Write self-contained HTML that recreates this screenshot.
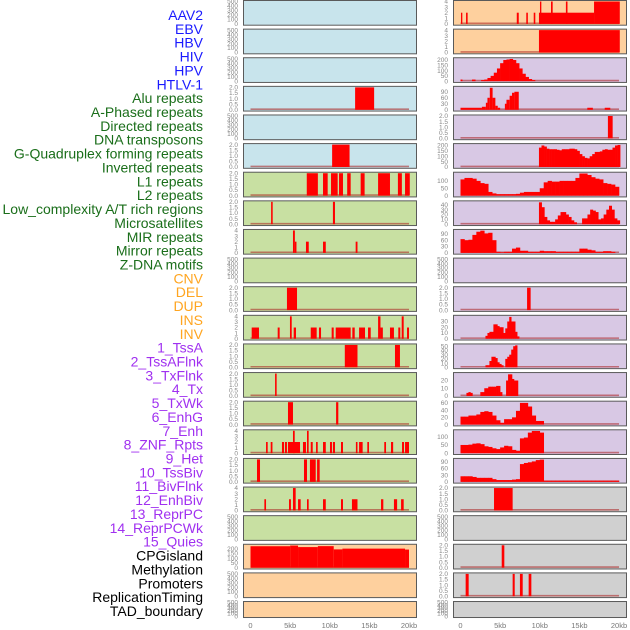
<!DOCTYPE html>
<html><head><meta charset="utf-8">
<style>
body{margin:0;background:#fff;width:630px;height:630px;overflow:hidden}
svg{display:block}
.lab{font-family:"Liberation Sans",sans-serif;font-size:14px}
.tk{font-family:"Liberation Sans",sans-serif;font-size:6.5px;fill:#888}
.xt{font-family:"Liberation Sans",sans-serif;font-size:7.5px;fill:#777}
</style></head>
<body>
<svg id="chart" width="630" height="630" viewBox="0 0 630 630"></svg>
<script>
// ---- labels ----
const labelNames=["AAV2","EBV","HBV","HIV","HPV","HTLV-1","Alu repeats","A-Phased repeats","Directed repeats","DNA transposons","G-Quadruplex forming repeats","Inverted repeats","L1 repeats","L2 repeats","Low_complexity A/T rich regions","Microsatellites","MIR repeats","Mirror repeats","Z-DNA motifs","CNV","DEL","DUP","INS","INV","1_TssA","2_TssAFlnk","3_TxFlnk","4_Tx","5_TxWk","6_EnhG","7_Enh","8_ZNF_Rpts","9_Het","10_TssBiv","11_BivFlnk","12_EnhBiv","13_ReprPC","14_ReprPCWk","15_Quies","CPGisland","Methylation","Promoters","ReplicationTiming","TAD_boundary"];
const labelGroups=[6,13,5,15,5];
const groupColors=["#1a1aff","#1a6e1a","#ffa520","#a030f0","#000000"];
// ---- tick label sets ----
const ticks500=["0","100","200","300","400","500"];
const ticks2=["0.0","0.5","1.0","1.5","2.0"];
const ticks4=["0","1","2","3","4"];
const xTickKb=[0,5,10,15,20];
const xTickLabels=["0","5kb","10kb","15kb","20kb"];
// ---- column 1 data: segments [startKb,endKb,value] ----
const c1r3=[[13.2,15.6,2]];
const c1r5=[[10.3,12.5,2]];
const c1r6=[[7.1,8.5,2],[9.15,9.74,2],[10.16,11.0,2],[11.17,11.67,2],[12.2,12.64,2],[13.9,14.4,2],[16.1,17.6,2],[18.6,19.1,2],[19.5,20.1,2]];
const c1r7=[[2.6,2.8,2],[10.4,10.66,2]];
const c1r8=[[5.36,5.6,4],[5.6,5.8,2],[7.0,7.35,2],[9.15,9.5,2],[13.27,13.5,2]];
const c1r10=[[4.6,5.87,2]];
const c1r11=[[0.15,1.07,2],[3.43,3.68,2],[4.98,5.2,4],[5.45,5.74,2],[7.6,8.35,2],[8.64,8.9,2],[10.24,10.5,2],[10.75,12.64,2],[12.85,13.15,2],[13.7,14.45,2],[14.83,15.17,2],[16.1,16.4,4],[16.4,16.7,2],[17.6,18.1,2],[18.65,18.9,2],[19.08,19.33,4],[19.75,20.0,2]];
const c1r12=[[11.9,13.5,2],[18.23,18.86,2]];
const c1r13=[[3.1,3.3,2]];
const c1r14=[[4.73,5.36,2],[10.8,11.08,2]];
const c1r15=[[1.96,2.17,2],[2.55,2.77,2],[3.97,4.23,2],[4.35,4.6,2],[4.73,6.25,2],[5.36,5.58,4],[6.62,7.0,2],[7.13,7.34,4],[7.6,7.85,2],[8.27,8.48,2],[9.15,9.5,2],[10.03,10.28,2],[10.4,10.66,2],[11.42,11.67,2],[13.3,13.5,2],[13.7,14.15,2],[14.74,14.95,2],[16.88,17.1,2],[17.73,18.0,2],[19.12,19.37,2],[19.5,20.0,2]];
const c1r16=[[0.82,1.2,2],[6.75,7.13,2],[7.5,8.23,2],[8.4,8.73,2]];
const c1r17=[[1.75,1.96,2],[4.86,5.1,2],[5.36,5.7,4],[6.0,6.33,2],[7.13,7.34,2],[9.15,9.5,2],[11.42,11.67,2],[12.8,13.5,2],[16.47,16.76,2],[18.1,18.5,2],[19.0,19.33,2]];
const c1r19=[[0,5,225],[5,6,232],[6,8.5,216],[8.5,10.5,226],[10.5,11.6,192],[11.6,19.5,200],[19.5,20,190]];
// ---- column 2 data ----
const c2r0=[[0.06,0.23,2],[0.7,0.9,2],[7.1,7.35,2],[8.3,8.5,2],[9.24,9.44,2],[9.9,16.85,2],[10.03,10.2,4],[11.42,11.63,4],[13.3,13.5,4],[16.85,20.1,4]];
const c2r1=[[9.9,20.1,4]];
const c2r2=[[0,0.25,15],[1.45,1.9,15]];
const c2r2p=[10,15,30,50,80,120,170,200,205,210,200,170,120,70,40,20,10];
const c2r3=[[0,2.7,10],[2.7,3.2,15],[3.2,3.4,35],[3.4,3.7,60],[3.7,4.05,110],[4.05,4.4,60],[4.4,4.7,20],[4.7,5.0,10],[5.6,5.8,30],[5.8,6.2,50],[6.2,6.5,70],[6.5,6.8,85],[6.8,7.35,90],[16.0,16.7,10],[18.2,18.9,10]];
const c2r4=[[18.6,19.2,2]];
const c2r5p=[180,200,190,170,165,165,165,160,155,165,165,165,170,170,165,150,120,100,85,80,100,120,140,140,145,160,165,160,160,180,200,205];
const c2r6p=[110,120,120,115,100,85,80,25,15,10,10,10,10,10,12,20,25,25,25,25,50,90,100,95,95,100,100,100,100,120,150,150,140,125,115,110,85,80,75,60];
const c2r7p=[45,35,15,8,5,5,10,18,25,25,20,15,8,4,0,0,12,12,20,30,28,25,10,12,20,30,38,30,12,8];
const c2r8p=[65,60,62,85,100,105,92,95,60,5,3,5,5,20,25,10,10,5,5,5,10,8,8,8,5,5,5,5,5,5,20,20,15,12,5,5,8,8,5,0];
const c2r10=[[8.4,8.85,2]];
const c2r11p=[5,10,12,12,25,25,22,20,20,10,18,30,38,30,30,12,4];
const c2r12p=[5,5,15,25,25,22,12,8,5,0,20,25,30,42,50,52];
const c2r13p=[0,0,0,4,5,4,0,0,0,0,5,5,10,10,12,12,12,12,13,13,5,0,0,20,28,28,22,20,20,0];
const c2r14p=[22,22,25,25,28,35,37,35,25,12,5,15,15,20,38,60,60,50,25,10,10];
const c2r15p=[50,50,52,58,60,55,42,38,30,25,35,45,42,20,15,90,95,125,135,135,125];
const c2r16p=[25,25,25,22,18,18,18,18,12,8,8,8,8,10,12,80,85,88,92,98,100,5,5,5,5,5,5,5,5,5,5,5,5,5,5,5,5,5,5,5];
const c2r17=[[4.23,6.58,2]];
const c2r19=[[5.2,5.53,2]];
const c2r20=[[0.65,1.03,2],[6.58,6.84,2],[7.5,7.85,2],[8.6,8.94,2]];

// panel config: [col,row,bg,ticks,ymax,segments,profile,profStartKb,profBinKb]
const BLUE="#c8e4ec",GREEN="#c8e0a2",ORANGE="#fed09e",PURPLE="#d8c8e4",GRAY="#d0d0d0";
const panels=[];
function bg1(r){return r<6?BLUE:(r<19?GREEN:ORANGE);}
function bg2(r){return r<2?ORANGE:(r<17?PURPLE:GRAY);}
const c1data={3:[ticks2,2,c1r3],5:[ticks2,2,c1r5],6:[ticks2,2,c1r6],7:[ticks2,2,c1r7],8:[ticks4,4,c1r8],10:[ticks2,2,c1r10],11:[ticks4,4,c1r11],12:[ticks2,2,c1r12],13:[ticks2,2,c1r13],14:[ticks2,2,c1r14],15:[ticks4,4,c1r15],16:[ticks2,2,c1r16],17:[ticks4,4,c1r17],19:[["0","50","100","150","200"],235,c1r19]};
const c2data={0:[ticks4,4,c2r0],1:[ticks4,4,c2r1],2:[["0","50","100","150","200"],212,c2r2,c2r2p,2.6,0.4],3:[["0","30","60","90"],112,c2r3],4:[ticks2,2,c2r4],
5:[["0","50","100","150","200"],208,[],c2r5p,9.9,0.32],6:[["0","50","100"],152,[],c2r6p,0,0.5],7:[["0","10","20","30","40"],46,[],c2r7p,9.9,0.34],
8:[["0","30","60","90"],106,[],c2r8p,0,0.5],10:[ticks2,2,c2r10],11:[["0","10","20","30"],39,[],c2r11p,3.15,0.25],12:[["0","10","20","30","40","50"],53,[],c2r12p,3.15,0.25],
13:[["0","10","20"],29,[],c2r13p,0,0.25],14:[["0","20","40","60"],62,[],c2r14p,0,0.5],15:[["0","50","100"],136,[],c2r15p,0,0.5],16:[["0","30","60","90"],101,[],c2r16p,0,0.5],
17:[ticks2,2,c2r17],19:[ticks2,2,c2r19],20:[ticks2,2,c2r20]};

const svg=document.getElementById('chart');
const NS="http://www.w3.org/2000/svg";
function mk(tag,attrs,parent){const e=document.createElementNS(NS,tag);for(const k in attrs)e.setAttribute(k,attrs[k]);(parent||svg).appendChild(e);return e;}
const KB=7.925;
const colX0=[250.5,460.5], colL=[243,453], colR=[416,626], tickRight=[238,448];
function xScale(c,kb){return colX0[c]+kb*KB;}

// labels
let li=0;
labelGroups.forEach((n,g)=>{for(let k=0;k<n;k++){const t=mk('text',{x:203,y:15+li*13.86+5,'text-anchor':'end',class:'lab',fill:groupColors[g]});


t.textContent=labelNames[li];li++;}});

for(let c=0;c<2;c++){
  for(let r=0;r<22;r++){
    const top=r*28.62, h=(r===21?16:24.7);
    const g=mk('g',{});
    
    
    const bg=c===0?bg1(r):bg2(r);
    mk('rect',{x:colL[c]+0.5,y:top+0.5,width:colR[c]-colL[c],height:h,fill:bg,stroke:'#5a5a5a','stroke-width':1},g);
    const d=(c===0?c1data:c2data)[r];
    const tk=d?d[0]:ticks500, ymax=d?d[1]:500;
    const yb=top+h-0.8, yt=top+1.5;
    const yS=v=>yb-(v/ymax)*(yb-yt);
    tk.forEach(s=>{const v=parseFloat(s);const t=mk('text',{x:tickRight[c],y:yS(v)+2.2,'text-anchor':'end',class:'tk'},g);
      
      
      t.textContent=s;});
    if(!d) continue;
    mk('line',{x1:xScale(c,0),x2:xScale(c,20),y1:yb-0.6,y2:yb-0.6,stroke:'rgba(170,30,30,0.55)','stroke-width':1.6},g);
    (d[2]||[]).forEach(s=>{const x0=xScale(c,s[0]),x1=xScale(c,s[1]);
      const b=mk('rect',{x:x0,y:yS(s[2]),width:Math.max(1,x1-x0),height:yb-yS(s[2]),fill:'#ff0000'},g);
      
      });
    if(d[3]){const st=d[4],w=d[5];d[3].forEach((v,i)=>{if(v<=0)return;const x0=xScale(c,st+i*w),x1=xScale(c,st+(i+1)*w);
      const b=mk('rect',{x:x0,y:yS(v),width:x1-x0+0.3,height:yb-yS(v),fill:'#ff0000'},g);
      
      });}
  }
  xTickKb.forEach((kb,i)=>{const t=mk('text',{x:xScale(c,kb),y:628,'text-anchor':'middle',class:'xt'});
    
    
    t.textContent=xTickLabels[i];});
}
</script>
</body></html>
